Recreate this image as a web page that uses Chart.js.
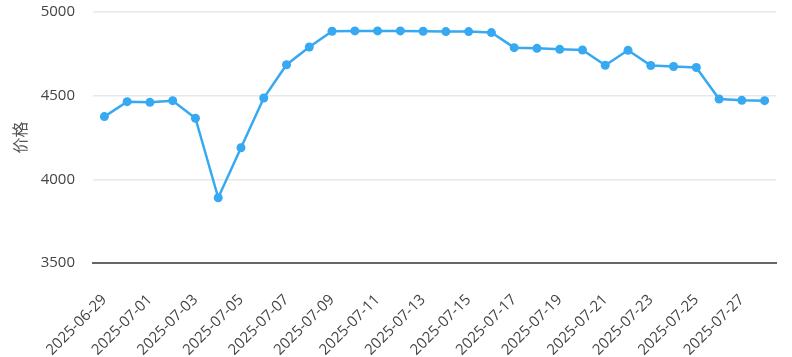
<!DOCTYPE html>
<html>
<head>
<meta charset="utf-8">
<script src="https://cdn.jsdelivr.net/npm/chart.js@4/dist/chart.umd.min.js"></script>
<style>
html,body{margin:0;padding:0;background:#fff;overflow:hidden;}
#wrap{width:792px;height:357px;position:relative;overflow:hidden;}
#c{position:absolute;left:0;top:-15px;}
</style>
</head>
<body>
<div id="wrap"><canvas id="c" width="792" height="372"></canvas></div>
<script>
const dates = ["2025-06-29","2025-06-30","2025-07-01","2025-07-02","2025-07-03","2025-07-04","2025-07-05","2025-07-06","2025-07-07","2025-07-08","2025-07-09","2025-07-10","2025-07-11","2025-07-12","2025-07-13","2025-07-14","2025-07-15","2025-07-16","2025-07-17","2025-07-18","2025-07-19","2025-07-20","2025-07-21","2025-07-22","2025-07-23","2025-07-24","2025-07-25","2025-07-26","2025-07-27","2025-07-28"];
const prices = [4375,4464,4460,4470,4365,3890,4189,4486,4685,4791,4885,4887,4887,4887,4885,4883,4883,4877,4787,4783,4777,4773,4682,4771,4680,4674,4668,4480,4472,4470];
const yTicks = [3500,4000,4500,5000];
const yTitle = "价格";

new Chart(document.getElementById('c'), {
  type: 'line',
  data: {
    labels: dates,
    datasets: [{
      data: prices,
      borderColor: '#36a9f2',
      backgroundColor: '#36a9f2',
      borderWidth: 2.5,
      pointRadius: 4.5,
      pointBorderWidth: 0,
      pointBackgroundColor: '#36a9f2',
      tension: 0
    }]
  },
  options: {
    responsive: false,
    animation: false,
    devicePixelRatio: 1,
    layout: { padding: { top: 0, right: 16, left: 0, bottom: 0 } },
    plugins: { legend: { display: false }, tooltip: { enabled: false } },
    scales: {
      x: {
        offset: true,
        grid: { display: false, drawTicks: false },
        border: { display: true, color: '#666', width: 2 },
        ticks: {
          autoSkip: false,
          minRotation: 45, maxRotation: 45,
          padding: 28,
          color: '#444',
          font: { family: 'Open Sans', size: 15 },
          callback: function(v, i) { return i % 2 === 0 ? dates[i] : ''; }
        },
        afterFit: function(s) { s.height = 94; s.paddingLeft = 0; s.paddingRight = 0; }
      },
      y: {
        min: 3500, max: 5000,
        afterBuildTicks: function(s) { s.ticks = yTicks.map(v => ({ value: v })); },
        grid: { color: '#e8e8e8', lineWidth: 1.5, drawTicks: false },
        border: { display: false },
        ticks: {
          padding: 18,
          color: '#444',
          font: { family: 'Open Sans', size: 15 },
          callback: function(v) { return String(v); }
        },
        title: {
          display: true, text: yTitle, color: '#555',
          font: { family: 'Noto Sans CJK SC', size: 16 }, padding: { top: 10, bottom: 0 }
        },
        afterFit: function(s) { s.width = 93; }
      }
    }
  }
});
</script>
</body>
</html>
